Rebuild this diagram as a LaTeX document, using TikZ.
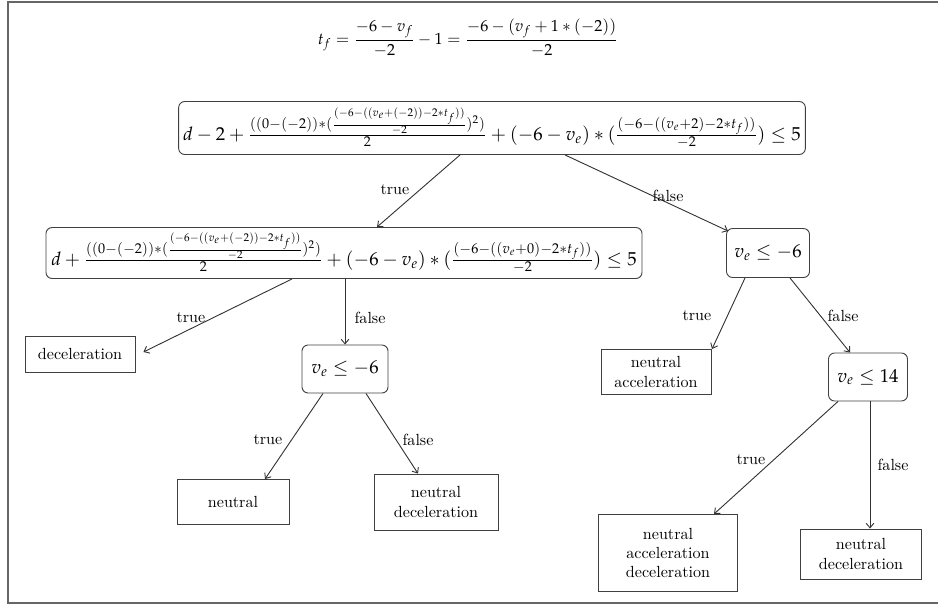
\documentclass[tikz,border=0pt]{standalone}
\usepackage{mathpazo}
\usetikzlibrary{calc,arrows.meta}
\def\u{0.658pt}
\tikzset{
  cond/.style={draw=black!75, rounded corners=4pt, inner sep=3pt, line width=0.6pt},
  leaf/.style={draw=black!75, align=center, inner sep=3pt, line width=0.6pt},
  edge/.style={draw=black!80, -{Straight Barb[length=3pt,width=5pt]}, line width=0.6pt},
  lbl/.style={inner sep=1pt},
  big/.style={font=\fontsize{12.3}{15}\selectfont}
}
\begin{document}
\begin{tikzpicture}[x=\u, y=-\u, font=\fontsize{10.6}{12.8}\selectfont]
\useasboundingbox (0,0) rectangle (938,606);
\draw[black!60, line width=1.2pt] (938,2) -- (8,2) -- (8,603) -- (938,603);

\node (tf) at (468,38) {$\displaystyle t_f = \frac{-6-v_f}{-2} - 1 = \frac{-6-(v_f+1*(-2))}{-2}$};

\node[cond, big, minimum width={625*\u}, minimum height={53*\u}] (root) at (492,128)
  {$d - 2 + \frac{((0-(-2))*(\frac{(-6-((v_e+(-2))-2*t_f))}{-2})^2)}{2} + (-6-v_e)*(\frac{(-6-((v_e+2)-2*t_f))}{-2}) \le 5$};

\node[cond, big, minimum width={596*\u}, minimum height={51*\u}] (lc) at (344,253)
  {$d + \frac{((0-(-2))*(\frac{(-6-((v_e+(-2))-2*t_f))}{-2})^2)}{2} + (-6-v_e)*(\frac{(-6-((v_e+0)-2*t_f))}{-2}) \le 5$};

\node[cond, big, minimum width={83*\u}, minimum height={49*\u}] (rv) at (768,253) {$v_e \le -6$};

\node[leaf, minimum width={110*\u}, minimum height={36*\u}] (dec) at (80,354) {deceleration};
\node[cond, big, minimum width={86*\u}, minimum height={48*\u}] (lv) at (345,369) {$v_e \le -6$};
\node[leaf, minimum width={112*\u}, minimum height={45*\u}] (neu) at (233,502) {neutral};
\node[leaf, minimum width={124*\u}, minimum height={56*\u}] (nd1) at (436,502) {neutral\\deceleration};
\node[leaf, minimum width={110*\u}, minimum height={45*\u}] (na) at (656,372) {neutral\\acceleration};
\node[cond, big, minimum width={79*\u}, minimum height={48*\u}] (v14) at (868,377) {$v_e \le 14$};
\node[leaf, minimum width={139*\u}, minimum height={77*\u}] (nad) at (668,553) {neutral\\acceleration\\deceleration};
\node[leaf, minimum width={121*\u}, minimum height={50*\u}] (nd2) at (861,554) {neutral\\deceleration};

\draw[edge] (root.south -| 460,0) -- (lc.north -| 377,0);
\draw[edge] (root.south -| 565,0) -- ($(rv.north west)+(2,3)$);
\draw[edge] (lc.south -| 292,0) -- ($(dec.east)+(8,-2)$);
\draw[edge] (lc.south -| lv.north) -- (lv.north);
\draw[edge] (lv.south -| 323,0) -- (neu.north -| 265,0);
\draw[edge] (lv.south -| 366,0) -- (nd1.north -| 418,0);
\draw[edge] (rv.south -| 745,0) -- (na.north -| 712,0);
\draw[edge] (rv.south -| 790,0) -- (v14.north -| 850,0);
\draw[edge] (v14.south -| 838,0) -- (nad.north -| 714,0);
\draw[edge] (v14.south -| 870,0) -- (nd2.north -| 870,0);

\node[lbl] (l1) at (395,190) {true};
\node[lbl] (l2) at (668,196) {false};
\node[lbl] (l3) at (191,318) {true};
\node[lbl] (l4) at (370,318) {false};
\node[lbl] (l5) at (268,440) {true};
\node[lbl] (l6) at (418,440) {false};
\node[lbl] (l7) at (697,316) {true};
\node[lbl] (l8) at (843,316) {false};
\node[lbl] (l9) at (751,460) {true};
\node[lbl] (l10) at (893,465) {false};
\end{tikzpicture}
\end{document}
